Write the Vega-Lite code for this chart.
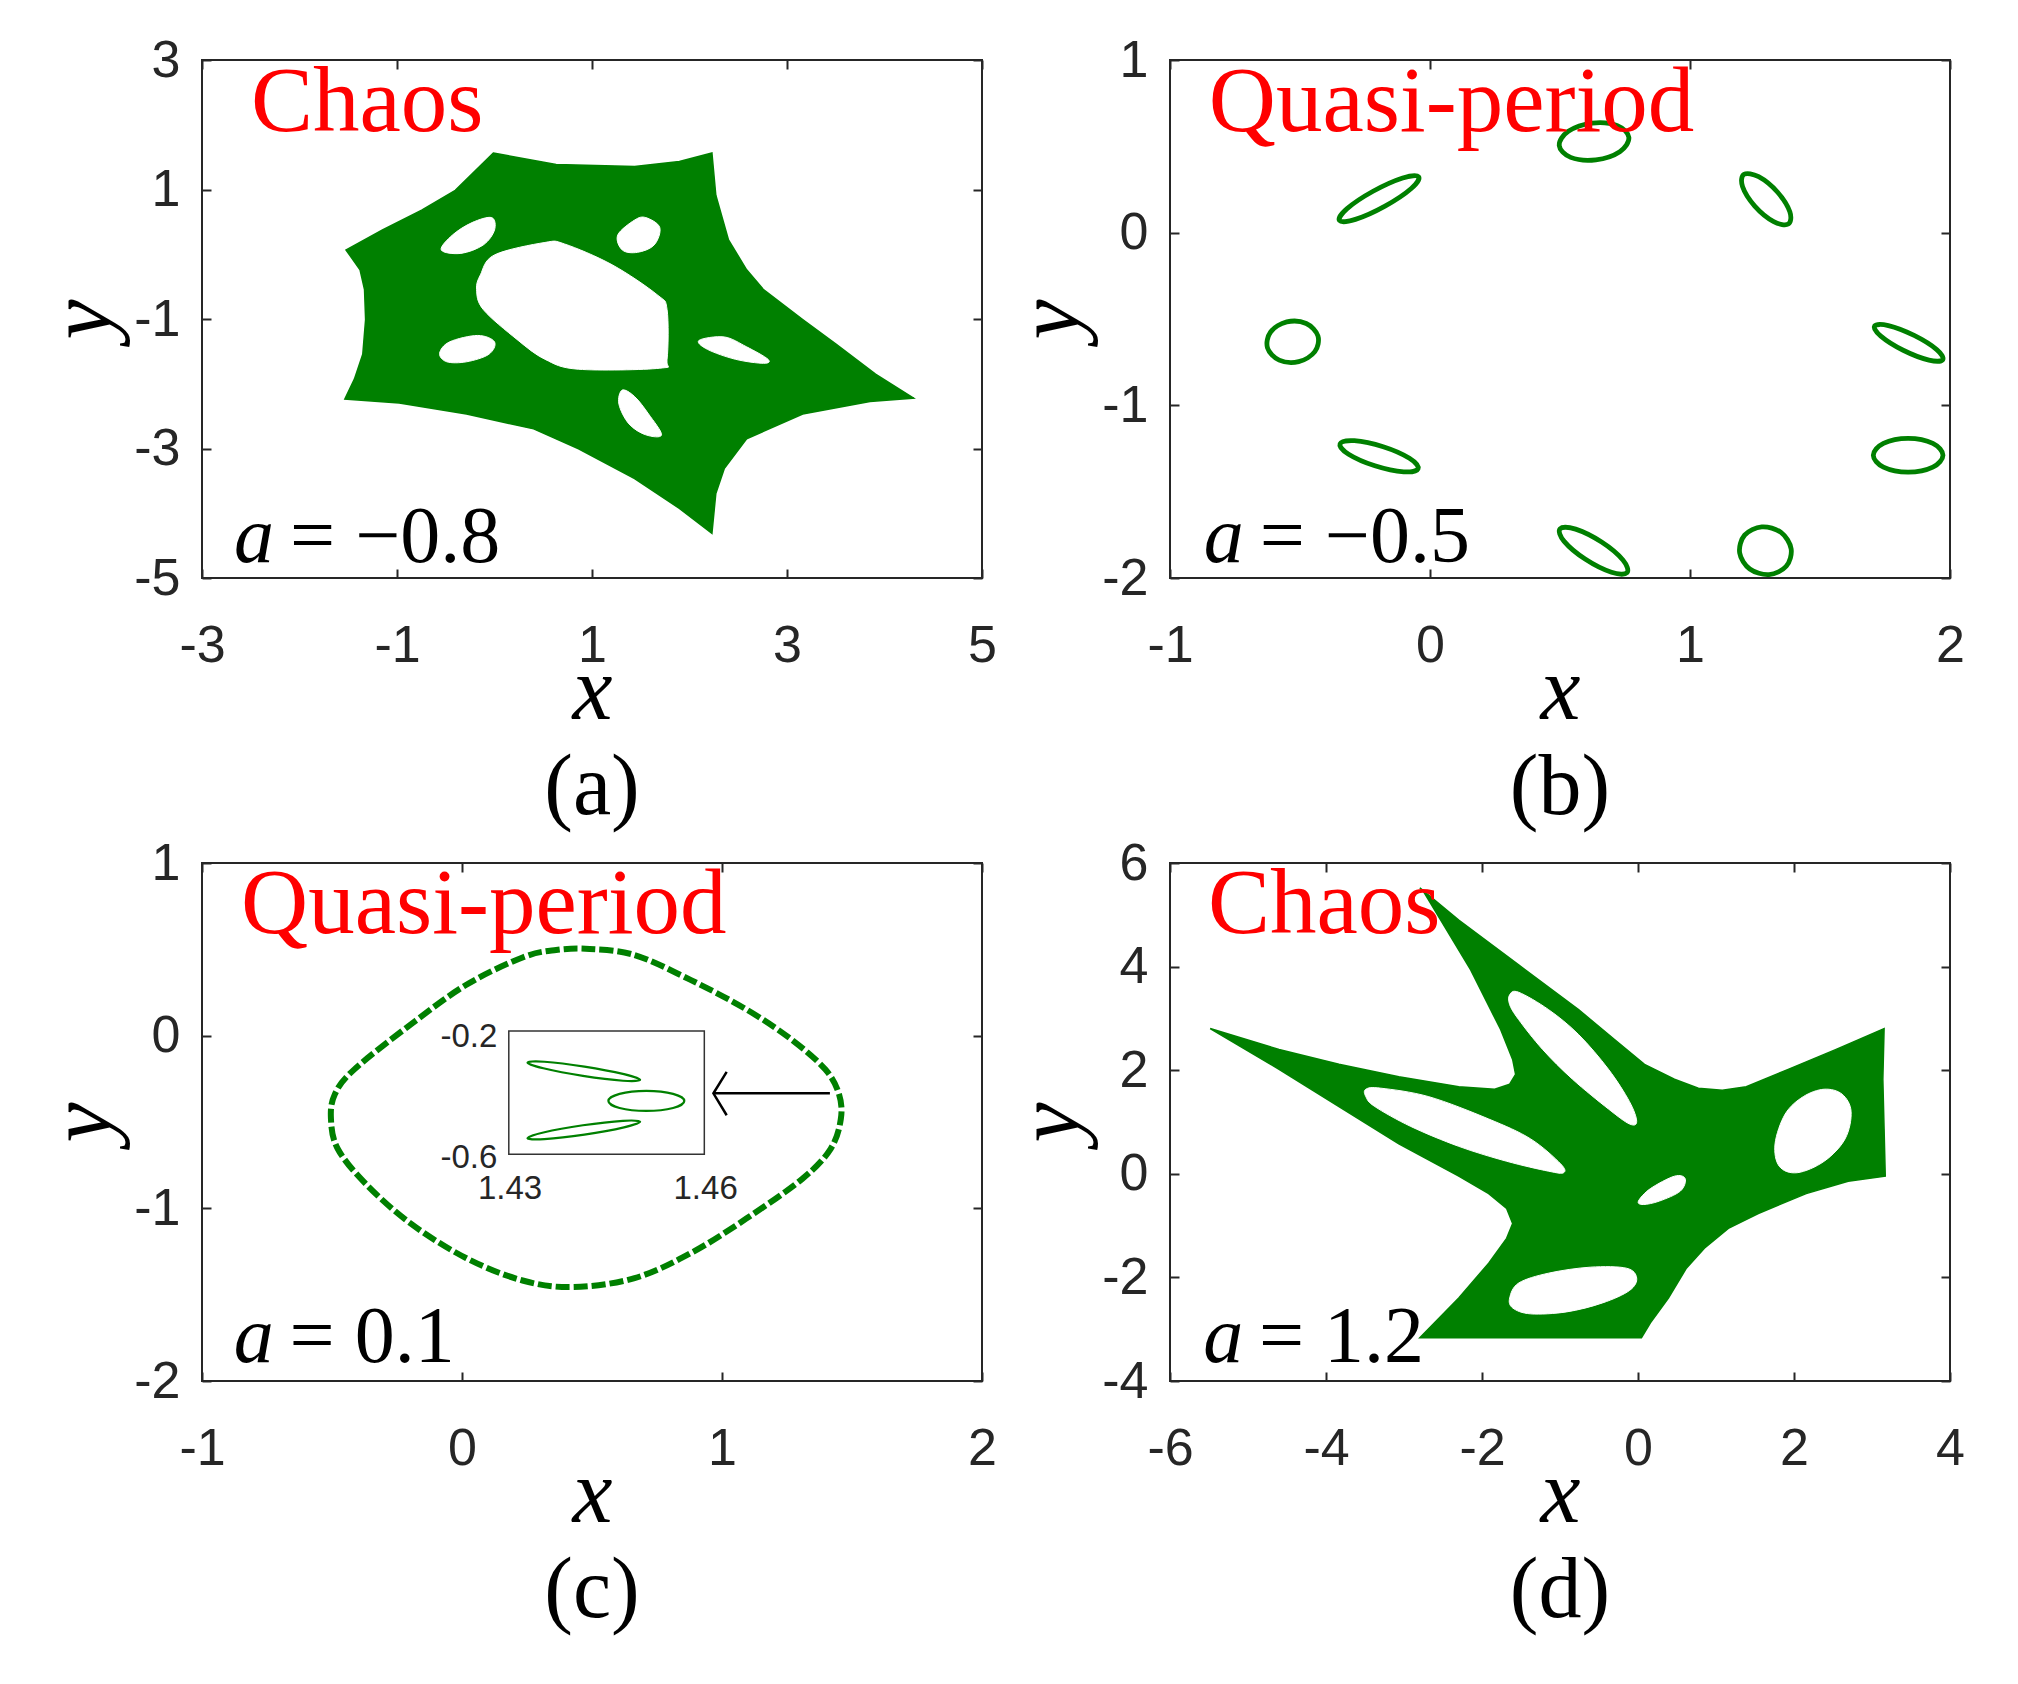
{
"$schema":"https://vega.github.io/schema/vega-lite/v6.json",
"background":"white",
"padding":{"left":37,"top":33,"right":5,"bottom":5},
"columns":2,
"bounds":"flush",
"spacing":{"row":285,"column":188},
"config":{
 "view":{"stroke":"#262626","strokeWidth":2},
 "axis":{"domain":false,"grid":false,"tickSize":-9,"tickWidth":2,"tickColor":"#262626","labelFont":"Liberation Sans","labelFontSize":52,"labelColor":"#262626","labelFlush":false,"labelOverlap":false,"labelBound":false,"titleFont":"Liberation Serif","titleFontStyle":"italic","titleFontWeight":"normal","titleFontSize":90,"titleColor":"black"},
 "axisX":{"labelPadding":51,"titlePadding":47,"titleBaseline":"alphabetic"},
 "axisY":{"labelPadding":31,"titlePadding":4},
 "title":{"orient":"bottom","font":"Liberation Serif","fontSize":86,"fontWeight":"normal","color":"black","offset":10,"anchor":"middle","frame":"group"},
 "text":{"align":"left","baseline":"alphabetic"}
},
"datasets":{
 "a_out":[{"i":0,"x":-0.012,"y":1.564},{"i":1,"x":0.632,"y":1.388},{"i":2,"x":1.437,"y":1.357},{"i":3,"x":1.896,"y":1.434},{"i":4,"x":2.230,"y":1.564},{"i":5,"x":2.270,"y":0.912},{"i":6,"x":2.400,"y":0.221},{"i":7,"x":2.586,"y":-0.240},{"i":8,"x":2.759,"y":-0.547},{"i":9,"x":3.161,"y":-1.008},{"i":10,"x":3.506,"y":-1.392},{"i":11,"x":3.908,"y":-1.852},{"i":12,"x":4.299,"y":-2.221},{"i":13,"x":3.851,"y":-2.275},{"i":14,"x":3.161,"y":-2.467},{"i":15,"x":2.586,"y":-2.851},{"i":16,"x":2.356,"y":-3.311},{"i":17,"x":2.270,"y":-3.695},{"i":18,"x":2.230,"y":-4.309},{"i":19,"x":1.896,"y":-3.926},{"i":20,"x":1.437,"y":-3.465},{"i":21,"x":0.862,"y":-3.004},{"i":22,"x":0.402,"y":-2.697},{"i":23,"x":-0.287,"y":-2.467},{"i":24,"x":-0.977,"y":-2.298},{"i":25,"x":-1.535,"y":-2.236},{"i":26,"x":-1.437,"y":-1.929},{"i":27,"x":-1.351,"y":-1.545},{"i":28,"x":-1.322,"y":-1.008},{"i":29,"x":-1.333,"y":-0.547},{"i":30,"x":-1.379,"y":-0.240},{"i":31,"x":-1.523,"y":0.067},{"i":32,"x":-1.149,"y":0.374},{"i":33,"x":-0.747,"y":0.681},{"i":34,"x":-0.402,"y":0.988}],
 "a_hole":[
  {"id":"c","i":0,"x":0.000,"y":-0.010},{"id":"c","i":1,"x":0.517,"y":0.182},{"id":"c","i":2,"x":0.718,"y":0.159},{"id":"c","i":3,"x":1.207,"y":-0.163},{"id":"c","i":4,"x":1.667,"y":-0.624},{"id":"c","i":5,"x":1.770,"y":-0.854},{"id":"c","i":6,"x":1.770,"y":-1.622},{"id":"c","i":7,"x":1.695,"y":-1.760},{"id":"c","i":8,"x":0.862,"y":-1.776},{"id":"c","i":9,"x":0.517,"y":-1.622},{"id":"c","i":10,"x":0.230,"y":-1.315},{"id":"c","i":11,"x":-0.115,"y":-0.854},{"id":"c","i":12,"x":-0.184,"y":-0.547},{"id":"c","i":13,"x":-0.144,"y":-0.317},
  {"id":"h1","i":0,"x":-0.546,"y":0.067},{"id":"h1","i":1,"x":-0.431,"y":0.297},{"id":"h1","i":2,"x":-0.230,"y":0.489},{"id":"h1","i":3,"x":-0.029,"y":0.566},{"id":"h1","i":4,"x":0.000,"y":0.374},{"id":"h1","i":5,"x":-0.115,"y":0.144},{"id":"h1","i":6,"x":-0.345,"y":0.013},
  {"id":"h2","i":0,"x":1.264,"y":0.297},{"id":"h2","i":1,"x":1.437,"y":0.528},{"id":"h2","i":2,"x":1.552,"y":0.566},{"id":"h2","i":3,"x":1.695,"y":0.413},{"id":"h2","i":4,"x":1.638,"y":0.144},{"id":"h2","i":5,"x":1.465,"y":0.029},{"id":"h2","i":6,"x":1.310,"y":0.067},
  {"id":"h3","i":0,"x":-0.563,"y":-1.530},{"id":"h3","i":1,"x":-0.460,"y":-1.353},{"id":"h3","i":2,"x":-0.172,"y":-1.254},{"id":"h3","i":3,"x":0.000,"y":-1.353},{"id":"h3","i":4,"x":-0.058,"y":-1.545},{"id":"h3","i":5,"x":-0.287,"y":-1.661},{"id":"h3","i":6,"x":-0.489,"y":-1.661},
  {"id":"h4","i":0,"x":2.098,"y":-1.330},{"id":"h4","i":1,"x":2.356,"y":-1.277},{"id":"h4","i":2,"x":2.586,"y":-1.430},{"id":"h4","i":3,"x":2.805,"y":-1.622},{"id":"h4","i":4,"x":2.759,"y":-1.684},{"id":"h4","i":5,"x":2.471,"y":-1.622},{"id":"h4","i":6,"x":2.184,"y":-1.469},
  {"id":"h5","i":0,"x":1.310,"y":-2.098},{"id":"h5","i":1,"x":1.437,"y":-2.198},{"id":"h5","i":2,"x":1.580,"y":-2.467},{"id":"h5","i":3,"x":1.713,"y":-2.789},{"id":"h5","i":4,"x":1.552,"y":-2.789},{"id":"h5","i":5,"x":1.379,"y":-2.620},{"id":"h5","i":6,"x":1.276,"y":-2.313}],
 "b_ell":[
  {"id":"e1","i":0,"x":0.765,"y":0.551},{"id":"e1","i":1,"x":0.730,"y":0.469},{"id":"e1","i":2,"x":0.638,"y":0.422},{"id":"e1","i":3,"x":0.541,"y":0.436},{"id":"e1","i":4,"x":0.497,"y":0.505},{"id":"e1","i":5,"x":0.532,"y":0.587},{"id":"e1","i":6,"x":0.624,"y":0.635},{"id":"e1","i":7,"x":0.721,"y":0.620},
  {"id":"e2","i":0,"x":-0.044,"y":0.324},{"id":"e2","i":1,"x":-0.072,"y":0.256},{"id":"e2","i":2,"x":-0.173,"y":0.154},{"id":"e2","i":3,"x":-0.287,"y":0.077},{"id":"e2","i":4,"x":-0.348,"y":0.070},{"id":"e2","i":5,"x":-0.320,"y":0.138},{"id":"e2","i":6,"x":-0.219,"y":0.240},{"id":"e2","i":7,"x":-0.105,"y":0.317},
  {"id":"e3","i":0,"x":1.378,"y":0.050},{"id":"e3","i":1,"x":1.384,"y":0.121},{"id":"e3","i":2,"x":1.337,"y":0.234},{"id":"e3","i":3,"x":1.264,"y":0.324},{"id":"e3","i":4,"x":1.208,"y":0.338},{"id":"e3","i":5,"x":1.202,"y":0.267},{"id":"e3","i":6,"x":1.249,"y":0.154},{"id":"e3","i":7,"x":1.322,"y":0.064},
  {"id":"e4","i":0,"x":-0.431,"y":-0.598},{"id":"e4","i":1,"x":-0.443,"y":-0.689},{"id":"e4","i":2,"x":-0.505,"y":-0.747},{"id":"e4","i":3,"x":-0.580,"y":-0.738},{"id":"e4","i":4,"x":-0.625,"y":-0.667},{"id":"e4","i":5,"x":-0.613,"y":-0.575},{"id":"e4","i":6,"x":-0.551,"y":-0.517},{"id":"e4","i":7,"x":-0.476,"y":-0.526},
  {"id":"e5","i":0,"x":1.972,"y":-0.736},{"id":"e5","i":1,"x":1.949,"y":-0.677},{"id":"e5","i":2,"x":1.862,"y":-0.595},{"id":"e5","i":3,"x":1.763,"y":-0.538},{"id":"e5","i":4,"x":1.710,"y":-0.540},{"id":"e5","i":5,"x":1.734,"y":-0.599},{"id":"e5","i":6,"x":1.820,"y":-0.681},{"id":"e5","i":7,"x":1.919,"y":-0.738},
  {"id":"e6","i":0,"x":-0.046,"y":-1.367},{"id":"e6","i":1,"x":-0.079,"y":-1.307},{"id":"e6","i":2,"x":-0.180,"y":-1.240},{"id":"e6","i":3,"x":-0.291,"y":-1.205},{"id":"e6","i":4,"x":-0.346,"y":-1.223},{"id":"e6","i":5,"x":-0.313,"y":-1.283},{"id":"e6","i":6,"x":-0.212,"y":-1.350},{"id":"e6","i":7,"x":-0.101,"y":-1.385},
  {"id":"e7","i":0,"x":1.973,"y":-1.289},{"id":"e7","i":1,"x":1.934,"y":-1.220},{"id":"e7","i":2,"x":1.839,"y":-1.191},{"id":"e7","i":3,"x":1.744,"y":-1.220},{"id":"e7","i":4,"x":1.705,"y":-1.289},{"id":"e7","i":5,"x":1.744,"y":-1.358},{"id":"e7","i":6,"x":1.839,"y":-1.387},{"id":"e7","i":7,"x":1.934,"y":-1.358},
  {"id":"e8","i":0,"x":0.758,"y":-1.969},{"id":"e8","i":1,"x":0.742,"y":-1.896},{"id":"e8","i":2,"x":0.660,"y":-1.792},{"id":"e8","i":3,"x":0.560,"y":-1.717},{"id":"e8","i":4,"x":0.500,"y":-1.715},{"id":"e8","i":5,"x":0.516,"y":-1.788},{"id":"e8","i":6,"x":0.598,"y":-1.892},{"id":"e8","i":7,"x":0.698,"y":-1.967},
  {"id":"e9","i":0,"x":1.304,"y":-1.980},{"id":"e9","i":1,"x":1.370,"y":-1.932},{"id":"e9","i":2,"x":1.389,"y":-1.831},{"id":"e9","i":3,"x":1.350,"y":-1.736},{"id":"e9","i":4,"x":1.276,"y":-1.704},{"id":"e9","i":5,"x":1.210,"y":-1.752},{"id":"e9","i":6,"x":1.191,"y":-1.854},{"id":"e9","i":7,"x":1.230,"y":-1.948}],
 "c_curve":[{"i":0,"x":0.491,"y":0.502},{"i":1,"x":0.664,"y":0.467},{"i":2,"x":0.879,"y":0.323},{"i":3,"x":1.095,"y":0.151},{"i":4,"x":1.267,"y":-0.022},{"i":5,"x":1.397,"y":-0.195},{"i":6,"x":1.450,"y":-0.339},{"i":7,"x":1.457,"y":-0.483},{"i":8,"x":1.418,"y":-0.655},{"i":9,"x":1.310,"y":-0.828},{"i":10,"x":1.095,"y":-1.058},{"i":11,"x":0.879,"y":-1.260},{"i":12,"x":0.664,"y":-1.404},{"i":13,"x":0.427,"y":-1.456},{"i":14,"x":0.233,"y":-1.418},{"i":15,"x":0.017,"y":-1.289},{"i":16,"x":-0.198,"y":-1.087},{"i":17,"x":-0.371,"y":-0.857},{"i":18,"x":-0.478,"y":-0.655},{"i":19,"x":-0.504,"y":-0.483},{"i":20,"x":-0.489,"y":-0.339},{"i":21,"x":-0.414,"y":-0.195},{"i":22,"x":-0.198,"y":0.064},{"i":23,"x":0.017,"y":0.295},{"i":24,"x":0.233,"y":0.453},{"i":25,"x":0.362,"y":0.496}],
 "c_box":[{"x":0.180,"x2":0.932,"y":0.027,"y2":-0.687}],
 "c_ins":[
  {"id":"i1","i":0,"x":0.685,"y":-0.256},{"id":"i1","i":1,"x":0.619,"y":-0.261},{"id":"i1","i":2,"x":0.465,"y":-0.233},{"id":"i1","i":3,"x":0.313,"y":-0.189},{"id":"i1","i":4,"x":0.252,"y":-0.156},{"id":"i1","i":5,"x":0.317,"y":-0.151},{"id":"i1","i":6,"x":0.471,"y":-0.179},{"id":"i1","i":7,"x":0.623,"y":-0.223},
  {"id":"i2","i":0,"x":0.855,"y":-0.378},{"id":"i2","i":1,"x":0.812,"y":-0.337},{"id":"i2","i":2,"x":0.709,"y":-0.320},{"id":"i2","i":3,"x":0.606,"y":-0.337},{"id":"i2","i":4,"x":0.563,"y":-0.378},{"id":"i2","i":5,"x":0.606,"y":-0.419},{"id":"i2","i":6,"x":0.709,"y":-0.436},{"id":"i2","i":7,"x":0.812,"y":-0.419},
  {"id":"i3","i":0,"x":0.685,"y":-0.498},{"id":"i3","i":1,"x":0.623,"y":-0.531},{"id":"i3","i":2,"x":0.471,"y":-0.573},{"id":"i3","i":3,"x":0.317,"y":-0.599},{"id":"i3","i":4,"x":0.252,"y":-0.594},{"id":"i3","i":5,"x":0.313,"y":-0.561},{"id":"i3","i":6,"x":0.465,"y":-0.519},{"id":"i3","i":7,"x":0.619,"y":-0.493}],
 "c_arr":[{"id":"s","i":0,"x":1.415,"y":-0.334},{"id":"s","i":1,"x":0.967,"y":-0.334},{"id":"h","i":0,"x":1.018,"y":-0.210},{"id":"h","i":1,"x":0.967,"y":-0.334},{"id":"h","i":2,"x":1.018,"y":-0.461}],
 "c_iy":[{"x":0.136,"y":-0.008,"t":"-0.2"},{"x":0.136,"y":-0.707,"t":"-0.6"}],
 "c_ix":[{"x":0.185,"y":-0.888,"t":"1.43"},{"x":0.937,"y":-0.888,"t":"1.46"}],
 "d_out":[{"i":0,"x":-2.797,"y":5.520},{"i":1,"x":-2.298,"y":4.896},{"i":2,"x":-1.530,"y":4.033},{"i":3,"x":-0.762,"y":3.169},{"i":4,"x":-0.301,"y":2.593},{"i":5,"x":0.083,"y":2.113},{"i":6,"x":0.467,"y":1.825},{"i":7,"x":0.774,"y":1.653},{"i":8,"x":1.081,"y":1.614},{"i":9,"x":1.388,"y":1.681},{"i":10,"x":1.926,"y":2.017},{"i":11,"x":2.540,"y":2.401},{"i":12,"x":3.155,"y":2.804},{"i":13,"x":3.139,"y":1.825},{"i":14,"x":3.155,"y":0.866},{"i":15,"x":3.170,"y":-0.046},{"i":16,"x":2.694,"y":-0.142},{"i":17,"x":2.156,"y":-0.382},{"i":18,"x":1.542,"y":-0.766},{"i":19,"x":1.158,"y":-1.054},{"i":20,"x":0.851,"y":-1.438},{"i":21,"x":0.620,"y":-1.822},{"i":22,"x":0.390,"y":-2.397},{"i":23,"x":0.159,"y":-2.877},{"i":24,"x":0.044,"y":-3.165},{"i":25,"x":-2.797,"y":-3.165},{"i":26,"x":-2.298,"y":-2.397},{"i":27,"x":-1.914,"y":-1.726},{"i":28,"x":-1.684,"y":-1.246},{"i":29,"x":-1.607,"y":-0.958},{"i":30,"x":-1.684,"y":-0.670},{"i":31,"x":-1.914,"y":-0.382},{"i":32,"x":-2.298,"y":-0.046},{"i":33,"x":-3.066,"y":0.578},{"i":34,"x":-3.834,"y":1.297},{"i":35,"x":-4.602,"y":2.017},{"i":36,"x":-5.485,"y":2.804},{"i":37,"x":-4.602,"y":2.401},{"i":38,"x":-3.834,"y":2.113},{"i":39,"x":-3.066,"y":1.873},{"i":40,"x":-2.298,"y":1.681},{"i":41,"x":-1.837,"y":1.633},{"i":42,"x":-1.645,"y":1.729},{"i":43,"x":-1.569,"y":1.921},{"i":44,"x":-1.607,"y":2.209},{"i":45,"x":-1.761,"y":2.785},{"i":46,"x":-2.145,"y":3.937},{"i":47,"x":-2.529,"y":4.896},{"i":48,"x":-2.759,"y":5.472}],
 "d_hole":[
  {"id":"h1","i":0,"x":-1.645,"y":3.457},{"id":"h1","i":1,"x":-1.530,"y":3.505},{"id":"h1","i":2,"x":-1.146,"y":3.169},{"id":"h1","i":3,"x":-0.762,"y":2.689},{"id":"h1","i":4,"x":-0.378,"y":2.017},{"id":"h1","i":5,"x":-0.109,"y":1.393},{"id":"h1","i":6,"x":-0.017,"y":1.010},{"id":"h1","i":7,"x":-0.109,"y":0.962},{"id":"h1","i":8,"x":-0.378,"y":1.250},{"id":"h1","i":9,"x":-0.839,"y":1.825},{"id":"h1","i":10,"x":-1.223,"y":2.401},{"id":"h1","i":11,"x":-1.530,"y":2.977},{"id":"h1","i":12,"x":-1.645,"y":3.265},
  {"id":"h2","i":0,"x":-3.489,"y":1.633},{"id":"h2","i":1,"x":-3.297,"y":1.653},{"id":"h2","i":2,"x":-2.682,"y":1.489},{"id":"h2","i":3,"x":-1.914,"y":1.058},{"id":"h2","i":4,"x":-1.377,"y":0.674},{"id":"h2","i":5,"x":-0.993,"y":0.194},{"id":"h2","i":6,"x":-0.954,"y":0.021},{"id":"h2","i":7,"x":-1.146,"y":0.050},{"id":"h2","i":8,"x":-1.684,"y":0.242},{"id":"h2","i":9,"x":-2.298,"y":0.530},{"id":"h2","i":10,"x":-2.913,"y":0.914},{"id":"h2","i":11,"x":-3.373,"y":1.297},{"id":"h2","i":12,"x":-3.489,"y":1.489},
  {"id":"h3","i":0,"x":2.387,"y":1.633},{"id":"h3","i":1,"x":2.617,"y":1.537},{"id":"h3","i":2,"x":2.732,"y":1.202},{"id":"h3","i":3,"x":2.655,"y":0.674},{"id":"h3","i":4,"x":2.387,"y":0.242},{"id":"h3","i":5,"x":2.041,"y":0.021},{"id":"h3","i":6,"x":1.811,"y":0.146},{"id":"h3","i":7,"x":1.757,"y":0.578},{"id":"h3","i":8,"x":1.887,"y":1.154},{"id":"h3","i":9,"x":2.118,"y":1.489},
  {"id":"h4","i":0,"x":0.006,"y":-0.526},{"id":"h4","i":1,"x":0.159,"y":-0.286},{"id":"h4","i":2,"x":0.467,"y":-0.046},{"id":"h4","i":3,"x":0.605,"y":-0.094},{"id":"h4","i":4,"x":0.543,"y":-0.334},{"id":"h4","i":5,"x":0.275,"y":-0.526},{"id":"h4","i":6,"x":0.067,"y":-0.593},
  {"id":"h5","i":0,"x":-1.645,"y":-2.397},{"id":"h5","i":1,"x":-1.530,"y":-2.109},{"id":"h5","i":2,"x":-1.146,"y":-1.918},{"id":"h5","i":3,"x":-0.609,"y":-1.802},{"id":"h5","i":4,"x":-0.148,"y":-1.822},{"id":"h5","i":5,"x":-0.017,"y":-2.013},{"id":"h5","i":6,"x":-0.109,"y":-2.253},{"id":"h5","i":7,"x":-0.455,"y":-2.493},{"id":"h5","i":8,"x":-0.916,"y":-2.666},{"id":"h5","i":9,"x":-1.377,"y":-2.704},{"id":"h5","i":10,"x":-1.607,"y":-2.589}],
 "lab":[
  {"p":"a","k":"red","x":-2.497,"y":1.903,"t":"Chaos"},
  {"p":"b","k":"red","x":-0.851,"y":0.589,"t":"Quasi-period"},
  {"p":"c","k":"red","x":-0.850,"y":0.595,"t":"Quasi-period"},
  {"p":"d","k":"red","x":-5.513,"y":4.649,"t":"Chaos"},
  {"p":"a","k":"a","x":-2.672,"y":-4.753,"t":"a"},
  {"p":"b","k":"a","x":-0.870,"y":-1.907,"t":"a"},
  {"p":"c","k":"a","x":-0.878,"y":-1.890,"t":"a"},
  {"p":"d","k":"a","x":-5.575,"y":-3.633,"t":"a"},
  {"p":"a","k":"v","x":-2.097,"y":-4.753,"t":"= −0.8"},
  {"p":"b","k":"v","x":-0.655,"y":-1.907,"t":"= −0.5"},
  {"p":"c","k":"v","x":-0.663,"y":-1.890,"t":"= 0.1"},
  {"p":"d","k":"v","x":-4.860,"y":-3.633,"t":"= 1.2"}]
},
"concat":[
 {"width":780,"height":518,"title":{"text":"(a)"},
  "resolve":{"axis":{"x":"independent","y":"independent"}},
  "layer":[
   {"data":{"name":"a_out"},"mark":{"type":"line","interpolate":"linear-closed","fill":"#008000","stroke":"#008000","strokeWidth":1.5},
    "encoding":{"x":{"field":"x","type":"quantitative","scale":{"domain":[-3,5],"nice":false,"zero":false},"axis":{"orient":"bottom","values":[-3,-1,1,3,5],"title":"x","labelExpr":"(datum.value < 0 ? '-' : '') + abs(datum.value)"}},
     "y":{"field":"y","type":"quantitative","scale":{"domain":[-5,3],"nice":false,"zero":false},"axis":{"orient":"left","values":[-5,-3,-1,1,3],"title":"y","labelExpr":"(datum.value < 0 ? '-' : '') + abs(datum.value)"}},
     "order":{"field":"i"}}},
   {"data":{"name":"a_hole"},"mark":{"type":"line","interpolate":"cardinal-closed","fill":"white","stroke":"white","strokeWidth":1},
    "encoding":{"x":{"field":"x","type":"quantitative","scale":{"domain":[-3,5],"nice":false,"zero":false},"axis":{"orient":"top","values":[-3,-1,1,3,5],"labels":false,"title":null}},
     "y":{"field":"y","type":"quantitative","scale":{"domain":[-5,3],"nice":false,"zero":false},"axis":{"orient":"right","values":[-5,-3,-1,1,3],"labels":false,"title":null}},
     "detail":{"field":"id"},"order":{"field":"i"}}},
   {"data":{"name":"lab"},"transform":[{"filter":"datum.p == 'a' && datum.k == 'red'"}],"mark":{"type":"text","font":"Liberation Serif","fontSize":93,"fill":"#ff0000"},
    "encoding":{"x":{"field":"x","type":"quantitative","scale":{"domain":[-3,5],"nice":false,"zero":false},"axis":null},"y":{"field":"y","type":"quantitative","scale":{"domain":[-5,3],"nice":false,"zero":false},"axis":null},"text":{"field":"t"}}},
   {"data":{"name":"lab"},"transform":[{"filter":"datum.p == 'a' && datum.k == 'a'"}],"mark":{"type":"text","font":"Liberation Serif","fontStyle":"italic","fontSize":80,"fill":"black"},
    "encoding":{"x":{"field":"x","type":"quantitative","scale":{"domain":[-3,5],"nice":false,"zero":false},"axis":null},"y":{"field":"y","type":"quantitative","scale":{"domain":[-5,3],"nice":false,"zero":false},"axis":null},"text":{"field":"t"}}},
   {"data":{"name":"lab"},"transform":[{"filter":"datum.p == 'a' && datum.k == 'v'"}],"mark":{"type":"text","font":"Liberation Serif","fontSize":80,"fill":"black"},
    "encoding":{"x":{"field":"x","type":"quantitative","scale":{"domain":[-3,5],"nice":false,"zero":false},"axis":null},"y":{"field":"y","type":"quantitative","scale":{"domain":[-5,3],"nice":false,"zero":false},"axis":null},"text":{"field":"t"}}}
  ]},
 {"width":780,"height":518,"title":{"text":"(b)"},
  "resolve":{"axis":{"x":"independent","y":"independent"}},
  "layer":[
   {"data":{"name":"b_ell"},"mark":{"type":"line","interpolate":"cardinal-closed","stroke":"#008000","strokeWidth":4.8},
    "encoding":{"x":{"field":"x","type":"quantitative","scale":{"domain":[-1,2],"nice":false,"zero":false},"axis":{"orient":"bottom","values":[-1,0,1,2],"title":"x","labelExpr":"(datum.value < 0 ? '-' : '') + abs(datum.value)"}},
     "y":{"field":"y","type":"quantitative","scale":{"domain":[-2,1],"nice":false,"zero":false},"axis":{"orient":"left","values":[-2,-1,0,1],"title":"y","labelExpr":"(datum.value < 0 ? '-' : '') + abs(datum.value)"}},
     "detail":{"field":"id"},"order":{"field":"i"}}},
   {"data":{"name":"lab"},"transform":[{"filter":"datum.p == 'b' && datum.k == 'red'"}],"mark":{"type":"text","font":"Liberation Serif","fontSize":93,"fill":"#ff0000"},
    "encoding":{"x":{"field":"x","type":"quantitative","scale":{"domain":[-1,2],"nice":false,"zero":false},"axis":{"orient":"top","values":[-1,0,1,2],"labels":false,"title":null}},"y":{"field":"y","type":"quantitative","scale":{"domain":[-2,1],"nice":false,"zero":false},"axis":{"orient":"right","values":[-2,-1,0,1],"labels":false,"title":null}},"text":{"field":"t"}}},
   {"data":{"name":"lab"},"transform":[{"filter":"datum.p == 'b' && datum.k == 'a'"}],"mark":{"type":"text","font":"Liberation Serif","fontStyle":"italic","fontSize":80,"fill":"black"},
    "encoding":{"x":{"field":"x","type":"quantitative","scale":{"domain":[-1,2],"nice":false,"zero":false},"axis":null},"y":{"field":"y","type":"quantitative","scale":{"domain":[-2,1],"nice":false,"zero":false},"axis":null},"text":{"field":"t"}}},
   {"data":{"name":"lab"},"transform":[{"filter":"datum.p == 'b' && datum.k == 'v'"}],"mark":{"type":"text","font":"Liberation Serif","fontSize":80,"fill":"black"},
    "encoding":{"x":{"field":"x","type":"quantitative","scale":{"domain":[-1,2],"nice":false,"zero":false},"axis":null},"y":{"field":"y","type":"quantitative","scale":{"domain":[-2,1],"nice":false,"zero":false},"axis":null},"text":{"field":"t"}}}
  ]},
 {"width":780,"height":518,"title":{"text":"(c)"},
  "resolve":{"axis":{"x":"independent","y":"independent"}},
  "layer":[
   {"data":{"name":"c_curve"},"mark":{"type":"line","interpolate":"cardinal-closed","stroke":"#008000","strokeWidth":6,"strokeDash":[14,4]},
    "encoding":{"x":{"field":"x","type":"quantitative","scale":{"domain":[-1,2],"nice":false,"zero":false},"axis":{"orient":"bottom","values":[-1,0,1,2],"title":"x","labelExpr":"(datum.value < 0 ? '-' : '') + abs(datum.value)"}},
     "y":{"field":"y","type":"quantitative","scale":{"domain":[-2,1],"nice":false,"zero":false},"axis":{"orient":"left","values":[-2,-1,0,1],"title":"y","labelExpr":"(datum.value < 0 ? '-' : '') + abs(datum.value)"}},
     "order":{"field":"i"}}},
   {"data":{"name":"c_box"},"mark":{"type":"rect","fill":"white","stroke":"#333333","strokeWidth":1.5},
    "encoding":{"x":{"field":"x","type":"quantitative","scale":{"domain":[-1,2],"nice":false,"zero":false},"axis":{"orient":"top","values":[-1,0,1,2],"labels":false,"title":null}},"x2":{"field":"x2"},
     "y":{"field":"y","type":"quantitative","scale":{"domain":[-2,1],"nice":false,"zero":false},"axis":{"orient":"right","values":[-2,-1,0,1],"labels":false,"title":null}},"y2":{"field":"y2"}}},
   {"data":{"name":"c_ins"},"mark":{"type":"line","interpolate":"cardinal-closed","stroke":"#008000","strokeWidth":2.2},
    "encoding":{"x":{"field":"x","type":"quantitative","scale":{"domain":[-1,2],"nice":false,"zero":false},"axis":null},"y":{"field":"y","type":"quantitative","scale":{"domain":[-2,1],"nice":false,"zero":false},"axis":null},"detail":{"field":"id"},"order":{"field":"i"}}},
   {"data":{"name":"c_arr"},"mark":{"type":"line","stroke":"black","strokeWidth":2.5},
    "encoding":{"x":{"field":"x","type":"quantitative","scale":{"domain":[-1,2],"nice":false,"zero":false},"axis":null},"y":{"field":"y","type":"quantitative","scale":{"domain":[-2,1],"nice":false,"zero":false},"axis":null},"detail":{"field":"id"},"order":{"field":"i"}}},
   {"data":{"name":"c_iy"},"mark":{"type":"text","font":"Liberation Sans","fontSize":33,"fill":"#262626","align":"right","baseline":"middle"},
    "encoding":{"x":{"field":"x","type":"quantitative","scale":{"domain":[-1,2],"nice":false,"zero":false},"axis":null},"y":{"field":"y","type":"quantitative","scale":{"domain":[-2,1],"nice":false,"zero":false},"axis":null},"text":{"field":"t"}}},
   {"data":{"name":"c_ix"},"mark":{"type":"text","font":"Liberation Sans","fontSize":33,"fill":"#262626","align":"center","baseline":"middle"},
    "encoding":{"x":{"field":"x","type":"quantitative","scale":{"domain":[-1,2],"nice":false,"zero":false},"axis":null},"y":{"field":"y","type":"quantitative","scale":{"domain":[-2,1],"nice":false,"zero":false},"axis":null},"text":{"field":"t"}}},
   {"data":{"name":"lab"},"transform":[{"filter":"datum.p == 'c' && datum.k == 'red'"}],"mark":{"type":"text","font":"Liberation Serif","fontSize":93,"fill":"#ff0000"},
    "encoding":{"x":{"field":"x","type":"quantitative","scale":{"domain":[-1,2],"nice":false,"zero":false},"axis":null},"y":{"field":"y","type":"quantitative","scale":{"domain":[-2,1],"nice":false,"zero":false},"axis":null},"text":{"field":"t"}}},
   {"data":{"name":"lab"},"transform":[{"filter":"datum.p == 'c' && datum.k == 'a'"}],"mark":{"type":"text","font":"Liberation Serif","fontStyle":"italic","fontSize":80,"fill":"black"},
    "encoding":{"x":{"field":"x","type":"quantitative","scale":{"domain":[-1,2],"nice":false,"zero":false},"axis":null},"y":{"field":"y","type":"quantitative","scale":{"domain":[-2,1],"nice":false,"zero":false},"axis":null},"text":{"field":"t"}}},
   {"data":{"name":"lab"},"transform":[{"filter":"datum.p == 'c' && datum.k == 'v'"}],"mark":{"type":"text","font":"Liberation Serif","fontSize":80,"fill":"black"},
    "encoding":{"x":{"field":"x","type":"quantitative","scale":{"domain":[-1,2],"nice":false,"zero":false},"axis":null},"y":{"field":"y","type":"quantitative","scale":{"domain":[-2,1],"nice":false,"zero":false},"axis":null},"text":{"field":"t"}}}
  ]},
 {"width":780,"height":518,"title":{"text":"(d)"},
  "resolve":{"axis":{"x":"independent","y":"independent"}},
  "layer":[
   {"data":{"name":"d_out"},"mark":{"type":"line","interpolate":"linear-closed","fill":"#008000","stroke":"#008000","strokeWidth":1.5},
    "encoding":{"x":{"field":"x","type":"quantitative","scale":{"domain":[-6,4],"nice":false,"zero":false},"axis":{"orient":"bottom","values":[-6,-4,-2,0,2,4],"title":"x","labelExpr":"(datum.value < 0 ? '-' : '') + abs(datum.value)"}},
     "y":{"field":"y","type":"quantitative","scale":{"domain":[-4,6],"nice":false,"zero":false},"axis":{"orient":"left","values":[-4,-2,0,2,4,6],"title":"y","labelExpr":"(datum.value < 0 ? '-' : '') + abs(datum.value)"}},
     "order":{"field":"i"}}},
   {"data":{"name":"d_hole"},"mark":{"type":"line","interpolate":"cardinal-closed","fill":"white","stroke":"white","strokeWidth":1},
    "encoding":{"x":{"field":"x","type":"quantitative","scale":{"domain":[-6,4],"nice":false,"zero":false},"axis":{"orient":"top","values":[-6,-4,-2,0,2,4],"labels":false,"title":null}},
     "y":{"field":"y","type":"quantitative","scale":{"domain":[-4,6],"nice":false,"zero":false},"axis":{"orient":"right","values":[-4,-2,0,2,4,6],"labels":false,"title":null}},
     "detail":{"field":"id"},"order":{"field":"i"}}},
   {"data":{"name":"lab"},"transform":[{"filter":"datum.p == 'd' && datum.k == 'red'"}],"mark":{"type":"text","font":"Liberation Serif","fontSize":93,"fill":"#ff0000"},
    "encoding":{"x":{"field":"x","type":"quantitative","scale":{"domain":[-6,4],"nice":false,"zero":false},"axis":null},"y":{"field":"y","type":"quantitative","scale":{"domain":[-4,6],"nice":false,"zero":false},"axis":null},"text":{"field":"t"}}},
   {"data":{"name":"lab"},"transform":[{"filter":"datum.p == 'd' && datum.k == 'a'"}],"mark":{"type":"text","font":"Liberation Serif","fontStyle":"italic","fontSize":80,"fill":"black"},
    "encoding":{"x":{"field":"x","type":"quantitative","scale":{"domain":[-6,4],"nice":false,"zero":false},"axis":null},"y":{"field":"y","type":"quantitative","scale":{"domain":[-4,6],"nice":false,"zero":false},"axis":null},"text":{"field":"t"}}},
   {"data":{"name":"lab"},"transform":[{"filter":"datum.p == 'd' && datum.k == 'v'"}],"mark":{"type":"text","font":"Liberation Serif","fontSize":80,"fill":"black"},
    "encoding":{"x":{"field":"x","type":"quantitative","scale":{"domain":[-6,4],"nice":false,"zero":false},"axis":null},"y":{"field":"y","type":"quantitative","scale":{"domain":[-4,6],"nice":false,"zero":false},"axis":null},"text":{"field":"t"}}}
  ]}
]
}
